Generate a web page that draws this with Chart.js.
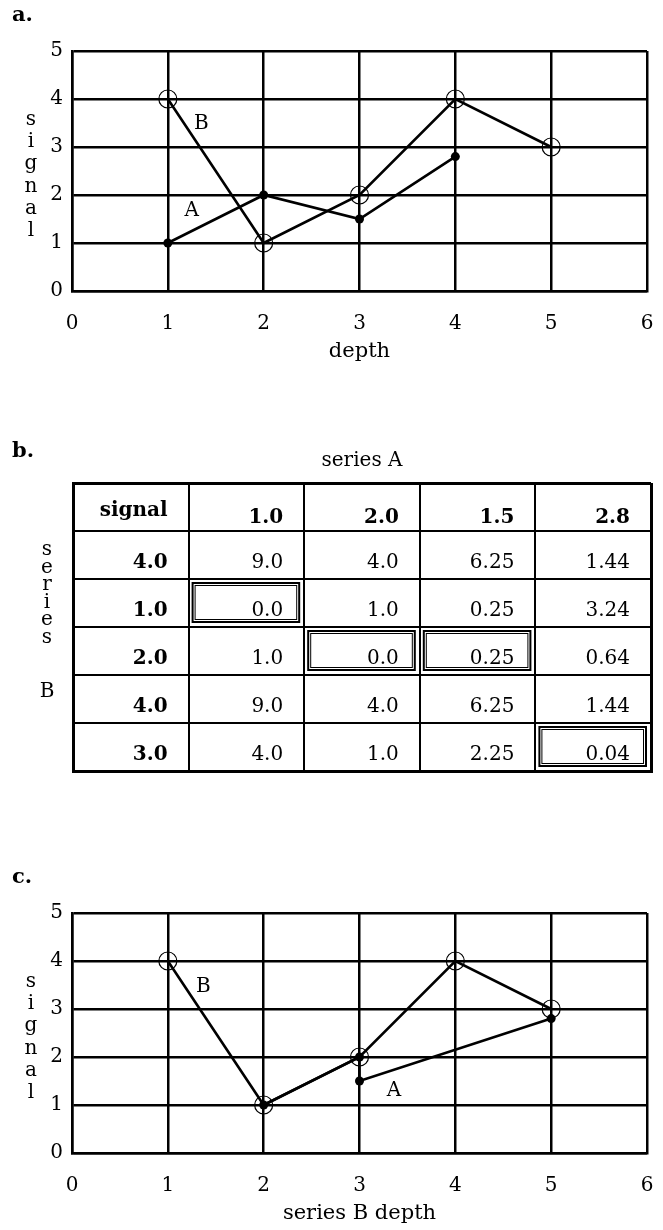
<!DOCTYPE html>
<html>
<head>
<meta charset="utf-8">
<script src="https://cdn.jsdelivr.net/npm/chart.js@4/dist/chart.umd.min.js"></script>
<style>
  html, body { margin: 0; padding: 0; background: #fff; }
  body { width: 663px; height: 1230px; position: relative; overflow: hidden; }
  canvas { position: absolute; left: 0; }
</style>
</head>
<body>
<canvas id="panelA" width="663" height="368" style="top:0px"></canvas>
<canvas id="panelB" width="663" height="360" style="top:430px"></canvas>
<canvas id="panelC" width="663" height="368" style="top:862px"></canvas>
<script>
// ---- data ----
const depthTicks = [0, 1, 2, 3, 4, 5, 6];
const signalTicks = [0, 1, 2, 3, 4, 5];

const seriesADepth = [1, 2, 3, 4];
const seriesASignal = [1.0, 2.0, 1.5, 2.8];

const seriesBDepth = [1, 2, 3, 4, 5];
const seriesBSignal = [4.0, 1.0, 2.0, 4.0, 3.0];

// series A re-placed on series B's depth axis along the alignment path
const warpedADepth = [2, 3, 3, 5];
const warpedASignal = [1.0, 2.0, 1.5, 2.8];

// local cost table: rows follow series B, columns follow series A
const costMatrix = [
  [9.0, 4.0, 6.25, 1.44],
  [0.0, 1.0, 0.25, 3.24],
  [1.0, 0.0, 0.25, 0.64],
  [9.0, 4.0, 6.25, 1.44],
  [4.0, 1.0, 2.25, 0.04]
];
// [row, column] cells on the alignment path
const pathCells = [[1, 0], [2, 1], [2, 2], [4, 3]];

// ---- shared styling ----
const SERIF = "'DejaVu Serif', 'Liberation Serif', serif";
Chart.defaults.font.family = SERIF;
Chart.defaults.color = '#000';

const fmt1 = v => v.toFixed(1);
const fmtCost = v => Number.isInteger(Math.round(v * 1000) / 100) ? v.toFixed(1) : v.toFixed(2);
const toPoints = (xs, ys) => xs.map((x, i) => ({ x, y: ys[i] }));

// keep the plot area exactly where the layout padding puts it
function noEdgePadding(s) {
  s.paddingLeft = 0; s.paddingRight = 0; s.paddingTop = 0; s.paddingBottom = 0;
}

// stacked (upright) letters for a vertical axis caption
function stackedText(ctx, text, x, y0, step, font) {
  ctx.save();
  ctx.font = font;
  ctx.fillStyle = '#000';
  ctx.textAlign = 'center';
  ctx.textBaseline = 'alphabetic';
  [...text].forEach((ch, i) => ctx.fillText(ch, x, y0 + i * step));
  ctx.restore();
}

function linePanel(id, tag, aDepth, aSignal, xTitle, labelB, labelA) {
  const annotate = {
    id: 'annotate',
    afterDraw(chart) {
      const ctx = chart.ctx;
      const xs = chart.scales.x, ys = chart.scales.y;
      ctx.save();
      ctx.fillStyle = '#000';
      ctx.font = 'bold 21px ' + SERIF;
      ctx.textAlign = 'left';
      ctx.textBaseline = 'alphabetic';
      ctx.fillText(tag, 12, 21);
      ctx.font = '20px ' + SERIF;
      ctx.textAlign = 'center';
      ctx.textBaseline = 'middle';
      ctx.fillText('B', xs.getPixelForValue(labelB[0]), ys.getPixelForValue(labelB[1]));
      ctx.fillText('A', xs.getPixelForValue(labelA[0]), ys.getPixelForValue(labelA[1]));
      ctx.restore();
      stackedText(ctx, 'signal', 31, 125, 22.2, '20px ' + SERIF);
    }
  };

  return new Chart(document.getElementById(id), {
    type: 'scatter',
    data: {
      datasets: [
        {
          label: 'A',
          data: toPoints(aDepth, aSignal),
          showLine: true,
          borderColor: '#000',
          borderWidth: 2.6,
          pointRadius: 4.5,
          pointBackgroundColor: '#000',
          pointBorderColor: '#000',
          pointBorderWidth: 0,
          clip: false
        },
        {
          label: 'B',
          data: toPoints(seriesBDepth, seriesBSignal),
          showLine: true,
          borderColor: '#000',
          borderWidth: 2.6,
          pointRadius: 9,
          pointBackgroundColor: 'rgba(0,0,0,0)',
          pointBorderColor: '#000',
          pointBorderWidth: 1.2,
          clip: false
        }
      ]
    },
    options: {
      responsive: false,
      animation: false,
      devicePixelRatio: 1,
      layout: { padding: { left: 0, right: 16, top: 51, bottom: 0 } },
      plugins: { legend: { display: false }, tooltip: { enabled: false } },
      scales: {
        x: {
          type: 'linear',
          min: depthTicks[0],
          max: depthTicks[depthTicks.length - 1],
          afterBuildTicks: s => { s.ticks = depthTicks.map(v => ({ value: v })); },
          afterFit: s => { s.height = 77; noEdgePadding(s); },
          grid: { color: '#000', lineWidth: 2.5, drawTicks: false },
          border: { color: '#000', width: 2.5 },
          ticks: { padding: 21, maxRotation: 0, font: { size: 20 }, callback: v => String(v) },
          title: { display: true, text: xTitle, font: { size: 21 }, padding: { top: 0, bottom: 4 } }
        },
        y: {
          type: 'linear',
          min: signalTicks[0],
          max: signalTicks[signalTicks.length - 1],
          afterBuildTicks: s => { s.ticks = signalTicks.map(v => ({ value: v })); },
          afterFit: s => { s.width = 72; noEdgePadding(s); },
          grid: { color: '#000', lineWidth: 2.5, drawTicks: false },
          border: { color: '#000', width: 2.5 },
          ticks: { padding: 9, font: { size: 20 }, callback: v => String(v) }
        }
      }
    },
    plugins: [annotate]
  });
}

// panel a: both series on their own depth
linePanel('panelA', 'a.', seriesADepth, seriesASignal, 'depth', [1.35, 3.48], [1.25, 1.67]);
// panel c: series A aligned onto series B depth
linePanel('panelC', 'c.', warpedADepth, warpedASignal, 'series B depth', [1.37, 3.46], [3.36, 1.3]);

// panel b: cost table laid out on linear column/row scales
const nCols = seriesASignal.length + 1;
const nRows = seriesBSignal.length + 1;

const tableText = {
  id: 'tableText',
  afterDraw(chart) {
    const ctx = chart.ctx;
    const xs = chart.scales.x, ys = chart.scales.y;
    const area = chart.chartArea;
    const cellRight = c => xs.getPixelForValue(c + 1);
    const cellLeft = c => xs.getPixelForValue(c);
    const rowTop = r => ys.getPixelForValue(r);
    const rowBottom = r => ys.getPixelForValue(r + 1);
    const padR = 21;
    const bodyLift = 11;

    ctx.save();
    ctx.fillStyle = '#000';
    ctx.textBaseline = 'alphabetic';

    ctx.font = 'bold 21px ' + SERIF;
    ctx.textAlign = 'left';
    ctx.fillText('b.', 12, 27);

    ctx.font = '20px ' + SERIF;
    ctx.textAlign = 'center';
    ctx.fillText('series A', (area.left + area.right) / 2, 36);

    // header row
    ctx.textAlign = 'right';
    ctx.font = 'bold 20px ' + SERIF;
    ctx.fillText('signal', cellRight(0) - padR, rowBottom(0) - 15);
    seriesASignal.forEach((v, j) => {
      ctx.fillText(fmt1(v), cellRight(j + 1) - padR, rowBottom(0) - 8);
    });

    // body rows
    seriesBSignal.forEach((v, i) => {
      ctx.font = 'bold 20px ' + SERIF;
      ctx.fillText(fmt1(v), cellRight(0) - padR, rowBottom(i + 1) - bodyLift);
      ctx.font = '20px ' + SERIF;
      costMatrix[i].forEach((c, j) => {
        ctx.fillText(fmtCost(c), cellRight(j + 1) - padR, rowBottom(i + 1) - bodyLift);
      });
    });

    // double-ruled boxes around the alignment path cells
    ctx.strokeStyle = '#000';
    pathCells.forEach(([r, c]) => {
      const x0 = cellLeft(c + 1), x1 = cellRight(c + 1);
      const y0 = rowTop(r + 1), y1 = rowBottom(r + 1);
      ctx.lineWidth = 2;
      ctx.strokeRect(x0 + 4, y0 + 4, (x1 - x0) - 9, (y1 - y0) - 9);
      ctx.lineWidth = 1;
      ctx.strokeRect(x0 + 6.5, y0 + 6.5, (x1 - x0) - 14, (y1 - y0) - 14);
    });
    ctx.restore();

    stackedText(ctx, 'series', 47, 125, 17.5, '20px ' + SERIF);
    ctx.save();
    ctx.font = '20px ' + SERIF;
    ctx.textAlign = 'center';
    ctx.fillStyle = '#000';
    ctx.fillText('B', 47, 267);
    ctx.restore();
  }
};

const edgeWidth = ctx => (ctx.tick && (ctx.index === 0 || ctx.index === ctx.scale.ticks.length - 1)) ? 3 : 2;

new Chart(document.getElementById('panelB'), {
  type: 'scatter',
  data: { datasets: [{ data: [] }] },
  options: {
    responsive: false,
    animation: false,
    devicePixelRatio: 1,
    layout: { padding: { left: 73, right: 12, top: 53, bottom: 19 } },
    plugins: { legend: { display: false }, tooltip: { enabled: false } },
    scales: {
      x: {
        type: 'linear',
        min: 0,
        max: nCols,
        afterBuildTicks: s => { s.ticks = Array.from({ length: nCols + 1 }, (_, i) => ({ value: i })); },
        afterFit: s => { s.height = 0; noEdgePadding(s); },
        ticks: { display: false },
        grid: { color: '#000', lineWidth: edgeWidth, drawTicks: false },
        border: { color: '#000', width: 3 }
      },
      y: {
        type: 'linear',
        min: 0,
        max: nRows,
        reverse: true,
        afterBuildTicks: s => { s.ticks = Array.from({ length: nRows + 1 }, (_, i) => ({ value: i })); },
        afterFit: s => { s.width = 0; noEdgePadding(s); },
        ticks: { display: false },
        grid: { color: '#000', lineWidth: edgeWidth, drawTicks: false },
        border: { color: '#000', width: 3 }
      }
    }
  },
  plugins: [tableText]
});
</script>
</body>
</html>
